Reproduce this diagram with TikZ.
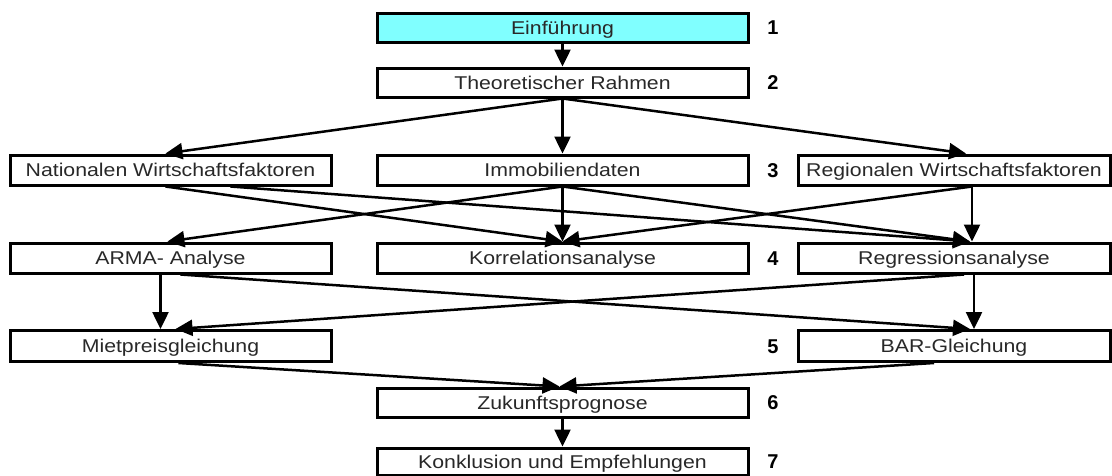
\documentclass[tikz,border=0pt]{standalone}
\usepackage{fontspec}
\usepackage{graphicx}
\setmainfont{Liberation Sans}
\usetikzlibrary{arrows.meta}
\definecolor{cyanfill}{RGB}{128,255,255}
\definecolor{txt}{RGB}{40,40,40}
\newcommand{\wide}[1]{\scalebox{1.15}[1]{#1}}
\begin{document}
\begin{tikzpicture}[x=1pt,y=-1pt,
  box/.style={draw, line width=3pt, rectangle, inner sep=0pt, text=txt, font=\fontsize{18.5}{21}\selectfont, text height=13.2pt, text depth=0pt},
  lbox/.style={box, minimum width=321pt, minimum height=30pt},
  mbox/.style={box, minimum width=371pt, minimum height=30pt},
  rbox/.style={box, minimum width=312pt, minimum height=30pt},
  num/.style={font=\bfseries\fontsize{20}{23}\selectfont, text height=14.3pt, text depth=0pt, inner sep=0pt},
  conn/.style={line width=2.5pt, -{Triangle[length=17pt,width=16pt]}}
]
\useasboundingbox (0,0) rectangle (1112,475);
% boxes
\node[mbox, fill=cyanfill, minimum height=29pt] (ein) at (562.5,27.5) {\wide{Einführung}};
\node[mbox, minimum height=29pt] (theo) at (562.5,82.5) {\wide{Theoretischer Rahmen}};
\node[lbox] (nat) at (170.5,170) {\wide{Nationalen Wirtschaftsfaktoren}};
\node[mbox] (immo) at (562.5,170) {\wide{Immobiliendaten}};
\node[rbox] (reg) at (954,170) {\wide{Regionalen Wirtschaftsfaktoren}};
\node[lbox] (arma) at (170.5,258) {\wide{ARMA- Analyse}};
\node[mbox] (korr) at (562.5,258) {\wide{Korrelationsanalyse}};
\node[rbox] (regr) at (954,258) {\wide{Regressionsanalyse}};
\node[lbox, minimum height=31pt] (miet) at (170.5,346) {\wide{Mietpreisgleichung}};
\node[rbox, minimum height=31pt] (bar) at (954,346) {\wide{BAR-Gleichung}};
\node[mbox, minimum height=29pt] (zuk) at (562.5,402.5) {\wide{Zukunftsprognose}};
\node[mbox, minimum height=27pt] (kon) at (562.5,461.5) {\wide{Konklusion und Empfehlungen}};
% numbers
\node[num] (n1) at (773,27.5) {1};
\node[num] (n2) at (773,82.5) {2};
\node[num] (n3) at (773,170) {3};
\node[num] (n4) at (773,258) {4};
\node[num] (n5) at (773,346) {5};
\node[num] (n6) at (773,402.5) {6};
\node[num] (n7) at (773,461.5) {7};
% connectors
\draw[conn] (ein.south) -- (theo.north);
\draw[conn] (theo.south) -- ([xshift=-5pt]nat.north);
\draw[conn] (theo.south) -- (immo.north);
\draw[conn] (theo.south) -- ([xshift=12pt]reg.north);
\draw[conn] ([xshift=-5pt]nat.south) -- (korr.north);
\draw[conn] ([xshift=60pt]nat.south) -- ([xshift=16pt]regr.north);
\draw[conn] (immo.south) -- ([xshift=-3pt]arma.north);
\draw[conn] (immo.south) -- (korr.north);
\draw[conn] (immo.south) -- ([xshift=16pt]regr.north);
\draw[conn] ([xshift=18pt]reg.south) -- (korr.north);
\draw[conn] ([xshift=18pt]reg.south) -- ([xshift=18pt]regr.north);
\draw[conn] ([xshift=-10pt]arma.south) -- ([xshift=-10pt]miet.north);
\draw[conn] ([xshift=10pt]arma.south) -- ([xshift=16pt]bar.north);
\draw[conn] ([xshift=10pt]regr.south) -- ([xshift=5pt]miet.north);
\draw[conn] ([xshift=20pt]regr.south) -- ([xshift=20pt]bar.north);
\draw[conn] ([xshift=8pt]miet.south) -- ([xshift=-3pt]zuk.north);
\draw[conn] ([xshift=-20pt]bar.south) -- ([xshift=-3pt]zuk.north);
\draw[conn] (zuk.south) -- (kon.north);
\end{tikzpicture}
\end{document}
